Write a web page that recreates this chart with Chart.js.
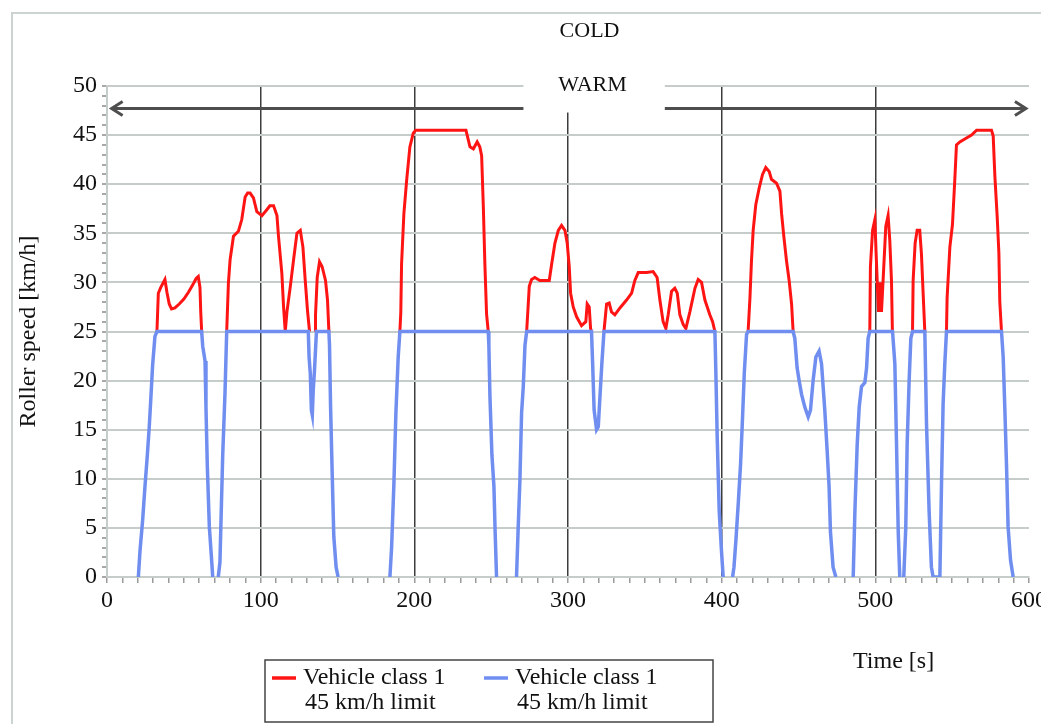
<!DOCTYPE html>
<html>
  <head>
    <meta charset="utf-8" />
    <title>Roller speed</title>
    <script src="https://cdn.jsdelivr.net/npm/chart.js@4.4.1/dist/chart.umd.min.js"></script>
    <style>
      body { margin: 0; background: #fff; }
    </style>
  </head>
  <body>
    <canvas id="myChart" width="1041" height="724"></canvas>
    <script>
      // time [s] / speed [km/h]; null = break in the line
      const blueTime = [
        20.4, 21.5, 23.2, 24.7, 26.2, 27.5, 28.6, 29.7, 31.2, 32.5, 61.6, 62.3, 63.8, 64.4, 65.3, 66.6, 68.1, 68.8, null,
        72.4, 73.5, 74.0, 75.3, 76.8, 77.9, 131.0, 131.5, 132.3, 133.0, 133.6, 134.2, 135.0, 136.3, 144.4, 144.8, 145.5, 146.6, 147.6, 149.1, 150.4, null,
        184.1, 185.2, 186.7, 188.0, 189.5, 190.6, 248.1, 248.5, 249.2, 250.5, 251.8, 252.6, 253.5, null,
        266.5, 267.6, 268.7, 269.8, 270.9, 272.0, 273.1, 315.3, 316.0, 317.0, 318.6, 319.7, 320.8, 322.1, 323.4, 395.6, 396.2, 397.1, 398.4, 399.9, 401.0, null,
        407.1, 408.0, 409.3, 410.8, 412.3, 413.6, 414.7, 416.2, 417.2, 446.5, 447.6, 449.1, 450.4, 452.0, 454.1, 456.3, 457.8, 459.5, 461.3, 463.4, 465.0, 467.1, 468.6, 469.9, 470.8, 472.5, 474.3, null,
        485.6, 486.7, 488.2, 489.5, 491.0, 493.2, 494.3, 495.3, 496.4, 511.2, 512.7, 513.8, 514.9, 515.9, null,
        518.5, 519.8, 520.7, 522.0, 523.1, 524.2, 532.2, 533.3, 535.0, 536.5, 537.6, 542.0, 543.1, 544.1, 545.2, 546.3, 582.1, 583.2, 584.3, 585.4, 586.4, 588.0, 589.7,
      ];
      const blueSpeed = [
        0, 2.7, 5.8, 9.2, 12.3, 15.3, 18.4, 21.6, 24.5, 25, 25, 23.5, 22, 17.3, 11.2, 5.1, 1.7, 0, null,
        0, 1.5, 4.6, 12.4, 18.8, 25, 25, 22.4, 20.7, 17, 16.5, 19, 21, 25, 25, 23.6, 17.3, 10.2, 4.1, 1, 0, null,
        0, 3, 9.5, 16.7, 22.4, 25, 25, 23.6, 18.4, 12.4, 9.2, 4.5, 0, null,
        0, 5.1, 9.8, 16.7, 19.4, 23.6, 25, 25, 21.9, 17, 15, 15.3, 18.4, 21.9, 25, 25, 21, 14.2, 6.7, 2.6, 0, null,
        0, 1, 3.8, 7.5, 11.5, 16.3, 20.7, 24.7, 25, 25, 24.3, 21.3, 20, 18.6, 17.3, 16.3, 17, 20, 22.4, 23, 21.7, 17, 13, 9.2, 4.6, 1, 0, null,
        0, 6.7, 13.5, 17.3, 19.4, 19.8, 21.3, 24.3, 25, 25, 21.7, 13.5, 4.6, 0, null,
        0, 5, 13.5, 20, 24.3, 25, 25, 15.6, 6.7, 1, 0, 0, 9.8, 17.6, 21.7, 25, 25, 22.4, 17, 11.2, 5.1, 1.7, 0,
      ];
      const redTime = [
        32.5, 33.4, 35.0, 37.7, 39.0, 40.5, 42.0, 44.2, 47.0, 50.0, 53.0, 56.0, 58.0, 59.4, 60.5, 61.0, 61.6, null,
        77.9, 79.0, 80.1, 82.3, 85.5, 87.7, 89.9, 91.5, 93.1, 95.3, 97.5, 100.8, 104.0, 106.0, 108.4, 110.6, 111.6, 113.8, 114.9, 116.0, 117.1, 119.3, 121.4, 123.6, 125.8, 127.5, 129.0, 130.5, 131.8, null,
        135.5, 135.7, 136.8, 138.3, 140.0, 142.2, 143.5, 144.4, null,
        190.6, 191.2, 191.7, 193.2, 195.0, 197.1, 199.3, 200.9, 233.6, 236.2, 238.4, 240.9, 242.6, 243.8, 244.9, 245.9, 247.0, 248.1, null,
        273.1, 274.8, 276.3, 278.4, 281.7, 287.8, 289.4, 291.5, 293.7, 295.8, 298.0, 299.5, 300.8, 301.7, 303.4, 305.6, 308.8, 311.6, 312.5, 313.8, 314.7, 315.3, null,
        323.4, 325.1, 326.8, 328.3, 330.5, 333.8, 338.1, 341.4, 343.5, 345.7, 351.1, 355.4, 358.0, 359.8, 361.9, 363.7, 365.2, 367.4, 369.5, 371.1, 372.8, 375.0, 376.7, 379.3, 382.6, 384.7, 386.9, 389.1, 392.3, 394.1, 395.6, null,
        417.2, 418.4, 419.4, 420.5, 422.2, 424.4, 426.6, 428.7, 430.9, 432.4, 435.7, 437.9, 439.0, 440.5, 442.2, 443.9, 445.5, 446.5, null,
        496.4, 496.8, 498.2, 499.7, 500.5, 501.2, 502.1, 503.0, 504.0, 505.5, 506.8, 508.3, 509.4, 510.5, 511.1, null,
        524.2, 524.6, 525.9, 527.2, 528.9, 530.0, 531.5, 532.2, null,
        546.3, 546.7, 548.5, 550.2, 551.7, 552.8, 555.0, 559.3, 562.6, 565.9, 575.6, 576.7, 577.8, 579.3, 580.4, 581.0, 582.1,
      ];
      const redSpeed = [
        25, 28.9, 29.5, 30.3, 29, 27.8, 27.3, 27.4, 27.8, 28.3, 29, 29.8, 30.4, 30.6, 29.5, 27, 25, null,
        25, 29.9, 32.3, 34.7, 35.2, 36.4, 38.7, 39.1, 39.1, 38.6, 37.2, 36.8, 37.4, 37.8, 37.8, 36.8, 34.7, 30.9, 27.5, 25, 27, 29.6, 32.3, 35, 35.3, 33.6, 30.2, 27.1, 25, null,
        25, 26.7, 30.5, 32.1, 31.6, 30.2, 28.2, 25, null,
        25, 27, 31.9, 37, 40.4, 43.8, 45.2, 45.5, 45.5, 43.8, 43.6, 44.3, 43.8, 42.9, 37.7, 31.9, 26.8, 25, null,
        25, 29.6, 30.3, 30.5, 30.2, 30.2, 31.9, 34, 35.3, 35.8, 35.3, 34, 31.6, 28.9, 27.5, 26.5, 25.6, 26, 27.8, 27.5, 25.3, 25, null,
        25, 27.8, 27.9, 27, 26.7, 27.4, 28.2, 28.9, 30.2, 31, 31, 31.1, 30.5, 28.2, 26, 25.3, 26.7, 29.1, 29.4, 28.9, 26.7, 25.7, 25.3, 27, 29.4, 30.3, 30, 28.2, 26.7, 26, 25, null,
        25, 28.4, 32.2, 35.3, 37.9, 39.6, 41, 41.7, 41.3, 40.5, 40.1, 39.3, 37, 34.6, 32.2, 30.2, 27.8, 25, null,
        25, 31.6, 35.3, 36.4, 33, 30.2, 27, 30, 27, 31.6, 35.7, 36.8, 34.3, 30.2, 25, null,
        25, 30.2, 34, 35.3, 35.3, 32.9, 27.5, 25, null,
        25, 28.4, 33.6, 35.9, 40.4, 44, 44.3, 44.7, 45, 45.5, 45.5, 44.9, 40.8, 36.7, 33, 28, 25,
      ];
      const legendLabels = [
        ["Vehicle class 1", "45 km/h limit"],
        ["Vehicle class 1", "45 km/h limit"],
      ];
      const xLabel = "Time [s]";
      const yLabel = "Roller speed [km/h]";
      const coldLabel = "COLD";
      const warmLabel = "WARM";

      const RED = "#ff1414";
      const BLUE = "#6f8ef0";
      const GRID = "#c6ccca";
      const FONT = "'Liberation Serif', 'DejaVu Serif', serif";

      function toPoints(times, speeds) {
        let last = 0;
        return times.map((t, i) => {
          if (t === null) return { x: last, y: null };
          last = t;
          return { x: t, y: speeds[i] };
        });
      }

      const overlay = {
        id: "overlay",
        beforeDraw(chart) {
          const ctx = chart.ctx;
          ctx.save();
          ctx.strokeStyle = "#cdd3d0";
          ctx.lineWidth = 2;
          ctx.strokeRect(12, 13, 1100, 800);
          ctx.restore();
        },
        beforeDatasetsDraw(chart) {
          const ctx = chart.ctx;
          const xs = chart.scales.x;
          const ys = chart.scales.y;
          ctx.save();
          // double arrow
          const ay = ys.getPixelForValue(47.7);
          const x1 = xs.getPixelForValue(3);
          const x2 = xs.getPixelForValue(598);
          ctx.strokeStyle = "#4e4e4e";
          ctx.lineWidth = 3;
          ctx.beginPath();
          ctx.moveTo(x1, ay);
          ctx.lineTo(x2, ay);
          ctx.moveTo(x1 + 11, ay - 7);
          ctx.lineTo(x1, ay);
          ctx.lineTo(x1 + 11, ay + 7);
          ctx.moveTo(x2 - 11, ay - 7);
          ctx.lineTo(x2, ay);
          ctx.lineTo(x2 - 11, ay + 7);
          ctx.stroke();
          // white label box
          const bx1 = xs.getPixelForValue(271);
          const bx2 = xs.getPixelForValue(363);
          const by1 = ys.getPixelForValue(51.7);
          const by2 = ys.getPixelForValue(47.3);
          ctx.fillStyle = "#fff";
          ctx.fillRect(bx1, by1, bx2 - bx1, by2 - by1);
          ctx.fillStyle = "#111";
          ctx.font = "22px " + FONT;
          ctx.textAlign = "center";
          ctx.textBaseline = "middle";
          ctx.fillText(warmLabel, xs.getPixelForValue(316), ys.getPixelForValue(50.1));
          ctx.fillText(coldLabel, xs.getPixelForValue(314), 31);
          ctx.restore();
        },
        afterDraw(chart) {
          const ctx = chart.ctx;
          ctx.save();
          ctx.font = "24px " + FONT;
          ctx.fillStyle = "#111";
          ctx.textBaseline = "middle";
          ctx.fillText(xLabel, 853, 662);
          // legend
          ctx.strokeStyle = "#444";
          ctx.lineWidth = 1.5;
          ctx.strokeRect(265, 660, 448, 62);
          const items = [
            { color: RED, x: 272 },
            { color: BLUE, x: 484 },
          ];
          items.forEach((it, i) => {
            ctx.strokeStyle = it.color;
            ctx.lineWidth = 3.5;
            ctx.beginPath();
            ctx.moveTo(it.x, 678);
            ctx.lineTo(it.x + 24, 678);
            ctx.stroke();
            ctx.fillText(legendLabels[i][0], it.x + 31, 678);
            ctx.fillText(legendLabels[i][1], it.x + 33, 703);
          });
          ctx.restore();
        },
      };

      const data = {
        datasets: [
          {
            label: legendLabels[1].join(" "),
            data: toPoints(blueTime, blueSpeed),
            borderColor: BLUE,
            borderWidth: 3.5,
            pointRadius: 0,
            tension: 0,
          },
          {
            label: legendLabels[0].join(" "),
            data: toPoints(redTime, redSpeed),
            borderColor: RED,
            borderWidth: 3,
            pointRadius: 0,
            tension: 0,
          },
        ],
      };

      const config = {
        type: "line",
        data: data,
        plugins: [overlay],
        options: {
          responsive: false,
          animation: false,
          spanGaps: false,
          layout: { padding: { top: 86, right: 12, left: 14, bottom: 0 } },
          plugins: {
            legend: { display: false },
            tooltip: { enabled: false },
          },
          scales: {
            x: {
              type: "linear",
              min: 0,
              max: 600,
              afterFit(scale) {
                scale.height = 147;
                scale.paddingLeft = 0;
                scale.paddingRight = 0;
              },
              border: { color: GRID, width: 2 },
              grid: {
                color: (c) =>
                  c.tick && c.tick.value % 100 === 0 && c.tick.value > 0 && c.tick.value < 600
                    ? "#3c3c3c"
                    : "rgba(0,0,0,0)",
                tickColor: "#9a9a9a",
                lineWidth: 1.5,
                tickLength: 6,
              },
              ticks: {
                stepSize: 10,
                autoSkip: false,
                maxRotation: 0,
                padding: 3,
                color: "#111",
                font: { family: FONT, size: 24 },
                callback: (v) => (v % 100 === 0 ? v : ""),
              },
            },
            y: {
              min: 0,
              max: 50,
              afterFit(scale) {
                scale.width = 93;
                scale.paddingTop = 0;
                scale.paddingBottom = 0;
              },
              border: { color: GRID, width: 2 },
              grid: {
                color: (c) =>
                  c.tick && c.tick.value % 5 === 0 && c.tick.value > 0 ? GRID : "rgba(0,0,0,0)",
                tickColor: "#a8a8a8",
                lineWidth: 2,
                tickLength: 5,
              },
              ticks: {
                stepSize: 1,
                autoSkip: false,
                padding: 5,
                color: "#111",
                font: { family: FONT, size: 24 },
                callback: (v) => (v % 5 === 0 ? v : ""),
              },
              title: {
                display: true,
                text: yLabel,
                color: "#111",
                font: { family: FONT, size: 24 },
                padding: { top: 0, bottom: 0 },
              },
            },
          },
        },
      };

      const ctx = document.getElementById("myChart");
      const myChart = new Chart(ctx, config);
    </script>
  </body>
</html>
